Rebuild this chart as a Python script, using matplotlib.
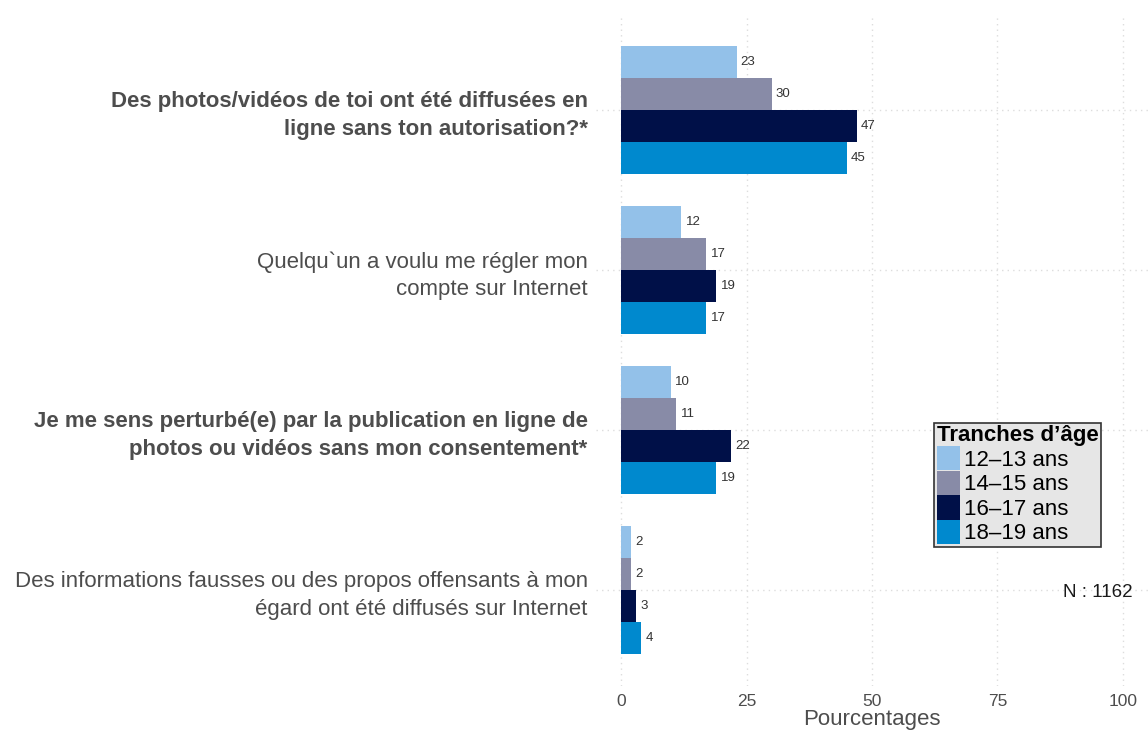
import matplotlib
matplotlib.use("Agg")
import matplotlib.pyplot as plt
import numpy as np
from matplotlib.patches import Patch

plt.rcParams["font.family"] = ["Liberation Sans", "DejaVu Sans"]

questions = [
    "Des photos/vidéos de toi ont été diffusées en\nligne sans ton autorisation?*",
    "Quelqu`un a voulu me régler mon\ncompte sur Internet",
    "Je me sens perturbé(e) par la publication en ligne de\nphotos ou vidéos sans mon consentement*",
    "Des informations fausses ou des propos offensants à mon\négard ont été diffusés sur Internet",
]
bold_rows = [True, False, True, False]
age_groups = ["12–13 ans", "14–15 ans", "16–17 ans", "18–19 ans"]
colors = ["#93C1E9", "#888BA7", "#001048", "#0089CE"]
values = {
    "12–13 ans": [23, 12, 10, 2],
    "14–15 ans": [30, 17, 11, 2],
    "16–17 ans": [47, 19, 22, 3],
    "18–19 ans": [45, 17, 19, 4],
}
xticks = [0, 25, 50, 75, 100]
n_label = "N : 1162"

fig = plt.figure(figsize=(11.48, 7.31), dpi=100)
ax = fig.add_axes([596 / 1148, 1 - 686 / 731, 1 - 596 / 1148, 672 / 731])

pos = np.arange(1, len(questions) + 1)
bh = 0.2
for i, grp in enumerate(age_groups):
    ypos = pos - 0.3 + i * bh
    ax.barh(ypos, values[grp], height=bh, color=colors[i], zorder=2)
    for y, v in zip(ypos, values[grp]):
        ax.annotate(str(v), (v, y), xytext=(3, 0), textcoords="offset points",
                    ha="left", va="center", fontsize=9.5, color="#333333")

ax.set_xlim(-5, 105)
ax.set_ylim(4.6, 0.4)
ax.set_xticks(xticks)
ax.set_xticklabels([str(t) for t in xticks], fontsize=12.5, color="#4D4D4D")
ax.set_yticks(pos)
ax.set_yticklabels(questions, fontsize=16, color="#4D4D4D", linespacing=1.38)
for lbl, b in zip(ax.get_yticklabels(), bold_rows):
    if b:
        lbl.set_fontweight("bold")
ax.tick_params(axis="both", length=0)
ax.tick_params(axis="y", pad=6)
ax.tick_params(axis="x", pad=6)
ax.set_xlabel("Pourcentages", fontsize=16, color="#4D4D4D", labelpad=0)
ax.grid(True, color="#DDDDDD", linestyle=(0, (1, 3)), linewidth=1, zorder=0)
ax.set_axisbelow(True)
for s in ax.spines.values():
    s.set_visible(False)

ax.annotate(n_label, (95, 4), xytext=(0, -2), textcoords="offset points",
            ha="center", va="center", fontsize=13.5, color="#1A1A1A")

handles = [Patch(facecolor=c, edgecolor="none") for c in colors]
leg = ax.legend(handles, age_groups, title="Tranches d’âge", loc="upper left",
                bbox_to_anchor=(0.613, 0.392), fontsize=16, title_fontsize=16,
                frameon=True, fancybox=False, handlelength=1.05, handleheight=1.3,
                handletextpad=0.15, labelspacing=0.0, borderpad=0.12,
                borderaxespad=0)
leg.get_title().set_fontweight("bold")
leg.get_frame().set_facecolor("#E6E6E6")
leg.get_frame().set_edgecolor("#333333")
leg.get_frame().set_linewidth(1.2)
leg.get_frame().set_alpha(1)
leg._legend_box.align = "left"

fig.savefig("out.png", dpi=100)
